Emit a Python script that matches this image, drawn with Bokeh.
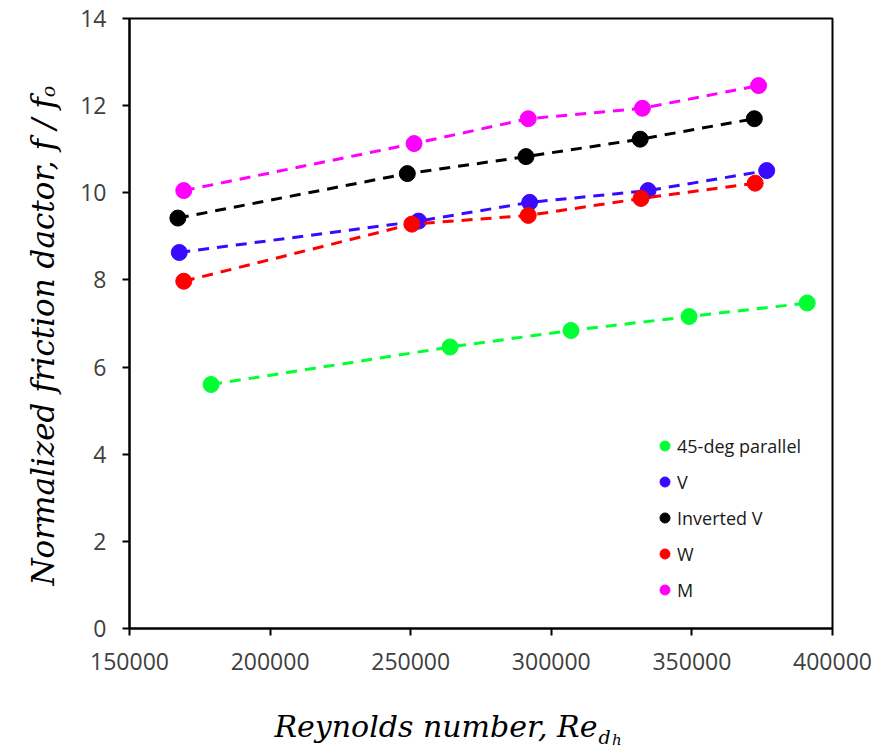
import math
from bokeh.plotting import figure
from bokeh.models import Range1d, FixedTicker, NumeralTickFormatter, Label, Legend, LegendItem
from bokeh.embed import file_html
from bokeh.resources import INLINE

# ---- data ----
series_names = ["45-deg parallel", "V", "Inverted V", "W", "M"]
series_colors = ["#00ff33", "#3a0aff", "#000000", "#ff0000", "#ff00ff"]
re_45 = [179000, 264000, 307000, 349000, 391000]
f_45 = [5.60, 6.46, 6.84, 7.16, 7.47]
re_v = [167700, 252800, 292300, 334400, 376600]
f_v = [8.63, 9.35, 9.78, 10.05, 10.51]
re_inv = [167200, 248800, 291000, 331600, 372200]
f_inv = [9.42, 10.44, 10.83, 11.23, 11.70]
re_w = [169300, 250400, 291800, 331900, 372500]
f_w = [7.97, 9.28, 9.48, 9.87, 10.22]
re_m = [169300, 251200, 291800, 332400, 373700]
f_m = [10.05, 11.13, 11.70, 11.94, 12.46]
x_ticks = [150000, 200000, 250000, 300000, 350000, 400000]
y_ticks = [0, 2, 4, 6, 8, 10, 12, 14]

xs = [re_45, re_v, re_inv, re_w, re_m]
ys = [f_45, f_v, f_inv, f_w, f_m]

p = figure(width=878, height=748,
           x_range=Range1d(150000, 400000), y_range=Range1d(0, 14),
           output_backend="svg", toolbar_location=None,
           min_border_left=129, min_border_right=46,
           min_border_top=18, min_border_bottom=120)
p.grid.visible = False
p.outline_line_color = "black"
p.outline_line_width = 2
p.outline_line_alpha = 1
p.background_fill_color = "white"
p.border_fill_color = "white"

p.xaxis.ticker = FixedTicker(ticks=x_ticks)
p.yaxis.ticker = FixedTicker(ticks=y_ticks)
p.xaxis.formatter = NumeralTickFormatter(format="0")
for ax in (p.xaxis[0], p.yaxis[0]):
    ax.axis_line_width = 2
    ax.axis_line_color = "black"
    ax.major_tick_line_width = 2
    ax.major_tick_line_color = "black"
    ax.major_tick_out = 7
    ax.major_tick_in = 0
    ax.minor_tick_line_color = None
    ax.major_label_text_font = "Open Sans"
    ax.major_label_text_font_size = "23px"
    ax.major_label_text_color = "#404040"
p.xaxis.major_label_standoff = 17
p.yaxis.major_label_standoff = 16

items = []
for name, color, x, y in zip(series_names, series_colors, xs, ys):
    p.line(x, y, line_color=color, line_width=3, line_dash="11 8")
    r = p.scatter(x, y, size=16, fill_color=color, line_color=color)
    items.append(LegendItem(label=name, renderers=[r]))

legend = Legend(items=items, location=(523, 26),
                glyph_width=25, glyph_height=25, label_height=25,
                spacing=11, padding=5, margin=0, label_standoff=0,
                border_line_color=None, background_fill_alpha=0,
                label_text_font="Open Sans", label_text_font_size="18px",
                label_text_color="#1a1a1a")
p.add_layout(legend)

title_font = "DejaVu Serif"


def title_label(text, x, y, size, align, angle=0.0):
    return Label(x=x, y=y, text=text, text_align=align, angle=angle,
                 text_baseline="alphabetic", text_font=title_font,
                 text_font_style="italic", text_font_size=size,
                 text_color="black")


# x axis title: Reynolds number, Re_{d_h}  (placed in the panel below the frame)
p.add_layout(title_label("Reynolds number, Re", 316400, -2.25, "30px", "right"), "below")
p.add_layout(title_label("d", 316800, -2.48, "19px", "left"), "below")
p.add_layout(title_label("h", 321600, -2.57, "15px", "left"), "below")
# y axis title: Normalized friction dactor, f/f_o  (placed in the panel left of the frame)
p.add_layout(title_label("Normalized friction dactor, f / f", 119100, 12.19, "31px", "right",
                         math.pi / 2), "left")
p.add_layout(title_label("o", 120900, 12.19, "19px", "left", math.pi / 2), "left")

open("out.html", "w").write(file_html(p, INLINE))
